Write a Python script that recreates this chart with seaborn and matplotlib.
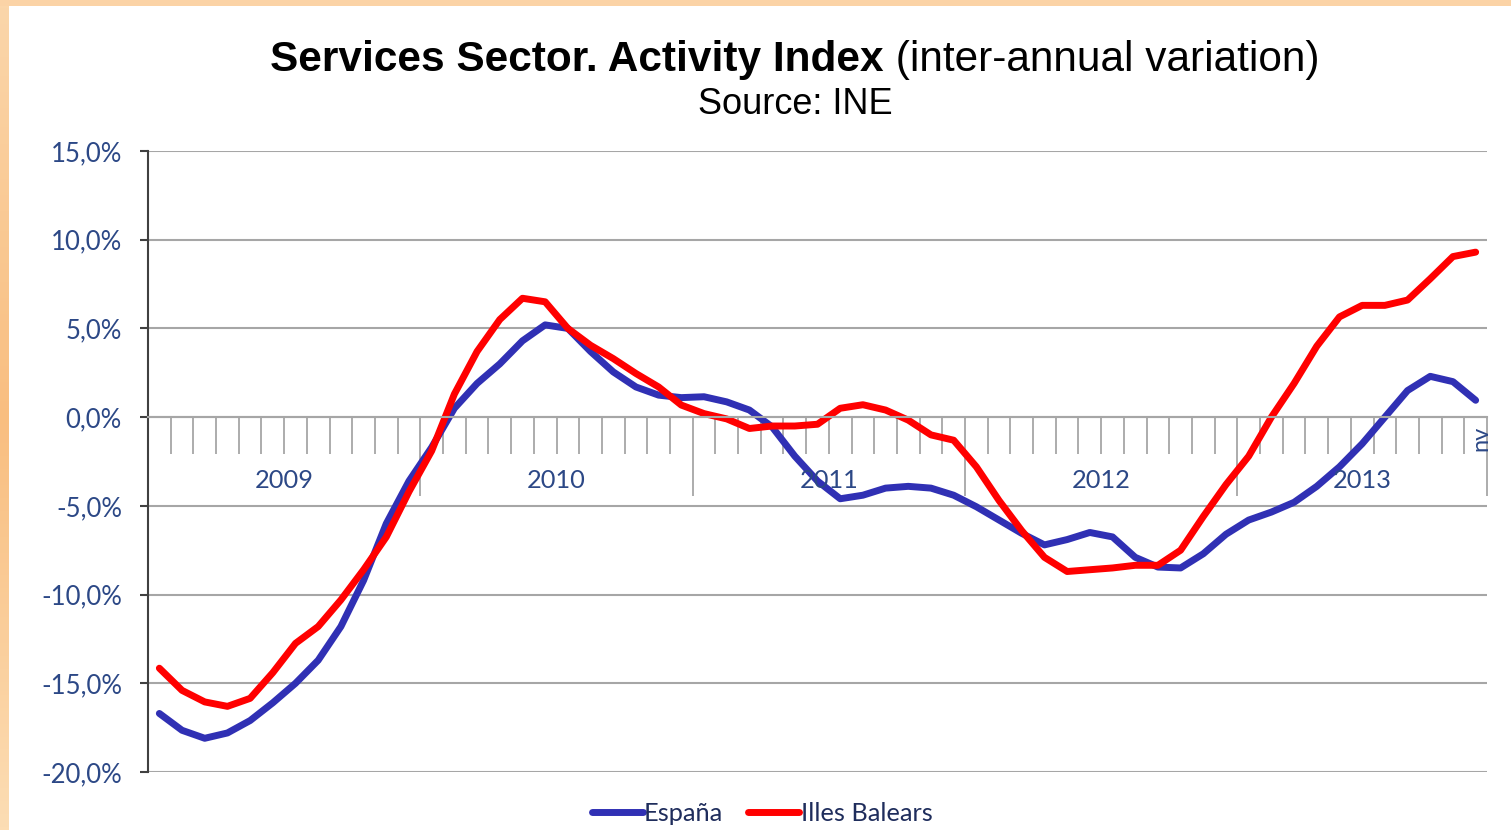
import numpy as np
import pandas as pd
import matplotlib
matplotlib.use("Agg")
import matplotlib.pyplot as plt
import seaborn as sns
from matplotlib.lines import Line2D
from matplotlib.patches import Rectangle
from matplotlib.ticker import FixedLocator, NullFormatter

# Monthly inter-annual variation (%), January 2009 - November 2013
years = ["2009", "2010", "2011", "2012", "2013"]
months_per_year = [12, 12, 12, 12, 11]
last_month_label = "nv"

espana = [
    -16.7, -17.65, -18.1, -17.8, -17.1, -16.1, -15.0, -13.7, -11.8, -9.2, -6.0, -3.6,
    -1.7, 0.5, 1.9, 3.0, 4.3, 5.2, 5.0, 3.7, 2.55, 1.7, 1.24, 1.1,
    1.15, 0.86, 0.4, -0.55, -2.2, -3.6, -4.6, -4.4, -4.0, -3.9, -4.0, -4.4,
    -5.05, -5.8, -6.55, -7.2, -6.9, -6.5, -6.75, -7.9, -8.45, -8.5, -7.7, -6.6,
    -5.8, -5.35, -4.8, -3.9, -2.8, -1.5, 0.0, 1.5, 2.3, 2.0, 0.95,
]
baleares = [
    -14.15, -15.4, -16.05, -16.3, -15.85, -14.4, -12.75, -11.8, -10.3, -8.6, -6.75, -4.2,
    -1.9, 1.3, 3.7, 5.5, 6.7, 6.5, 5.0, 4.05, 3.3, 2.46, 1.7, 0.68,
    0.2, -0.1, -0.64, -0.5, -0.5, -0.4, 0.5, 0.7, 0.4, -0.17, -1.0, -1.3,
    -2.8, -4.7, -6.4, -7.9, -8.7, -8.6, -8.5, -8.35, -8.35, -7.5, -5.6, -3.8,
    -2.2, 0.0, 1.9, 4.0, 5.65, 6.3, 6.3, 6.6, 7.8, 9.05, 9.3,
]
series_names = ["España", "Illes Balears"]
series_colors = ["#3030B4", "#FF0000"]
y_ticks = [-20, -15, -10, -5, 0, 5, 10, 15]

n = len(espana)
df = pd.DataFrame({
    "mes": list(range(n)) * 2,
    "valor": espana + baleares,
    "serie": [series_names[0]] * n + [series_names[1]] * n,
})

sns.set_theme(style="white")
plt.rcParams["font.family"] = ["Lato", "DejaVu Sans"]

W, H = 1511, 830
fig = plt.figure(figsize=(W / 100, H / 100), dpi=100)
fig.patch.set_facecolor("white")

# orange frame strips along the top and left edges
fig.patches.append(Rectangle((0, 1 - 6 / H), 1, 6 / H, transform=fig.transFigure,
                             facecolor="#FBD3A6", edgecolor="none", zorder=0))
strip = fig.add_axes([0, 0, 9 / W, 1 - 6 / H])
grad = np.linspace(0, 1, 256)
c_top = np.array([251, 214, 170]) / 255
c_mid = np.array([249, 190, 128]) / 255
c_bot = np.array([252, 221, 180]) / 255
cols = np.where(grad[:, None] < 0.5,
                c_top + (c_mid - c_top) * (grad[:, None] / 0.5),
                c_mid + (c_bot - c_mid) * ((grad[:, None] - 0.5) / 0.5))
strip.imshow(cols[:, None, :], aspect="auto", extent=(0, 1, 0, 1))
strip.set_axis_off()

ax = fig.add_axes([148 / W, 1 - 772 / H, (1487 - 148) / W, (772 - 151) / H])
ax.set_facecolor("white")

line_w = 5.0
sns.lineplot(data=df, x="mes", y="valor", hue="serie", palette=series_colors,
             hue_order=series_names, linewidth=line_w, ax=ax, legend=False,
             solid_capstyle="round", solid_joinstyle="round")

ax.set_xlim(-0.5, n - 0.5)
ax.set_ylim(min(y_ticks), max(y_ticks))
ax.set_xlabel("")
ax.set_ylabel("")

# y axis
label_color = "#2C4886"
ax.set_yticks(y_ticks)
ax.set_yticklabels([f"{v:.1f}%".replace(".", ",") for v in y_ticks])
ax.tick_params(axis="y", direction="out", length=5.8, width=1.5, color="#404040",
               labelcolor=label_color, labelsize=18.5, pad=13, left=True)
ax.yaxis.grid(True, color="#A6A6A6", linewidth=1.5)
ax.set_axisbelow(True)

for side in ["top", "right"]:
    ax.spines[side].set_visible(False)
ax.spines["left"].set_color("#404040")
ax.spines["left"].set_linewidth(1.5)

# category axis crossing at zero with month and year separators
ax.spines["bottom"].set_position(("data", 0))
ax.spines["bottom"].set_color("#A6A6A6")
ax.spines["bottom"].set_linewidth(1.5)
year_edges = np.cumsum(months_per_year) - 0.5
month_edges = [b + 0.5 for b in range(n - 1) if (b + 0.5) not in set(year_edges)]
ax.xaxis.set_major_locator(FixedLocator(year_edges))
ax.xaxis.set_minor_locator(FixedLocator(month_edges))
ax.xaxis.set_major_formatter(NullFormatter())
ax.xaxis.set_minor_formatter(NullFormatter())
ax.tick_params(axis="x", which="major", direction="out", length=57, width=1.3,
               color="#A6A6A6", bottom=True)
ax.tick_params(axis="x", which="minor", direction="out", length=26.8, width=1.3,
               color="#A6A6A6", bottom=True)

starts = np.concatenate([[-0.5], year_edges[:-1]])
for yr, s, e in zip(years, starts, year_edges):
    ax.text((s + e) / 2, -3.55, yr, ha="center", va="center", fontsize=18.3,
            color=label_color)
ax.text(n - 1 + 0.25, -1.2, last_month_label, rotation=90, ha="center", va="center",
        fontsize=17, color=label_color)

# legend
handles = [Line2D([0], [0], color=c, linewidth=line_w, solid_capstyle="round")
           for c in series_colors]
leg = fig.legend(handles, series_names, loc="center", bbox_to_anchor=(762 / W, 1 - 813 / H),
                 ncol=2, frameon=False, handlelength=2.0, handletextpad=0.05,
                 columnspacing=1.0, fontsize=18.3)
for t in leg.get_texts():
    t.set_color("#1F2D5C")

# two-part title centred over the chart
title_font = ["Liberation Sans", "DejaVu Sans"]
renderer = fig.canvas.get_renderer()
t1 = fig.text(0, 1 - 71 / H, "Services Sector. Activity Index", fontsize=30.5,
              fontweight="bold", family=title_font, color="black", va="baseline")
t2 = fig.text(0, 1 - 71 / H, " (inter-annual variation)", fontsize=30.5,
              family=title_font, color="black", va="baseline")
w1 = t1.get_window_extent(renderer).width
w2 = t2.get_window_extent(renderer).width
x0 = 795 - (w1 + w2) / 2
t1.set_x(x0 / W)
t2.set_x((x0 + w1) / W)
fig.text(795 / W, 1 - 114 / H, "Source: INE", fontsize=26, family=title_font,
         color="black", ha="center", va="baseline")

fig.savefig("out.png", dpi=100)
